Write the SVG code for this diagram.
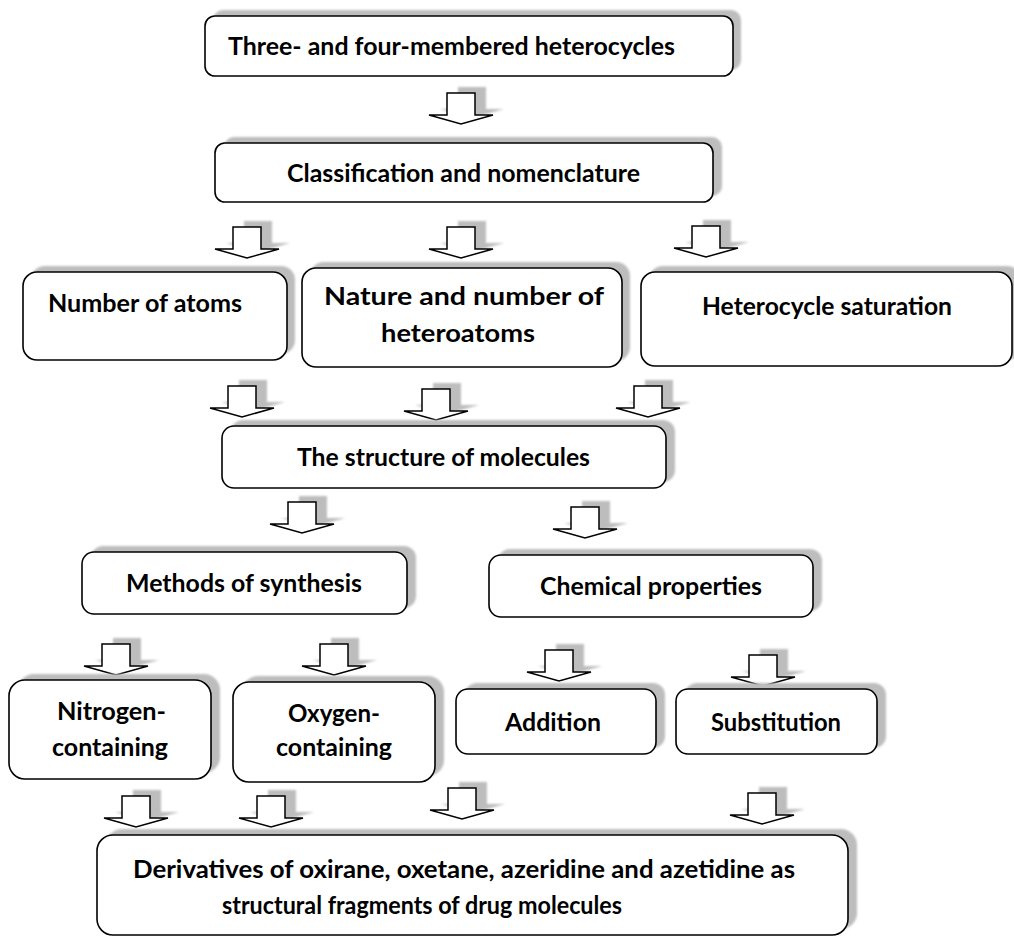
<svg xmlns="http://www.w3.org/2000/svg" xmlns:xlink="http://www.w3.org/1999/xlink" width="1014" height="938" viewBox="0 0 1014 938">
<style>
.box{fill:#ffffff;stroke:#000000;stroke-width:1.6}
.sh{fill:#bdbdbd;filter:url(#blur)}
.t{font-family:Lato,"Open Sans","Liberation Sans",sans-serif;font-weight:700;font-size:24px;fill:#000000}
.arr{fill:#ffffff;stroke:#000000;stroke-width:1.5;stroke-linejoin:miter}
.arrs{fill:#bdbdbd;stroke:none;filter:url(#blur)}
</style>
<defs>
<filter id="blur" x="-10%" y="-20%" width="120%" height="140%"><feGaussianBlur stdDeviation="1.2"/></filter>
<path id="ar" d="M-14,0 H14 V22 H32 L0,31 L-32,22 H-14 Z"/>
</defs>
<rect width="1014" height="938" fill="#ffffff"/>

<g id="connectors">
<use xlink:href="#ar" href="#ar" class="arrs" x="472" y="87"/><use xlink:href="#ar" href="#ar" class="arr" x="461" y="93"/>
<use xlink:href="#ar" href="#ar" class="arrs" x="258" y="221"/><use xlink:href="#ar" href="#ar" class="arr" x="247" y="227"/>
<use xlink:href="#ar" href="#ar" class="arrs" x="472" y="221"/><use xlink:href="#ar" href="#ar" class="arr" x="461" y="227"/>
<use xlink:href="#ar" href="#ar" class="arrs" x="717" y="220"/><use xlink:href="#ar" href="#ar" class="arr" x="706" y="226"/>
<use xlink:href="#ar" href="#ar" class="arrs" x="253" y="380"/><use xlink:href="#ar" href="#ar" class="arr" x="242" y="386"/>
<use xlink:href="#ar" href="#ar" class="arrs" x="447" y="383"/><use xlink:href="#ar" href="#ar" class="arr" x="436" y="389"/>
<use xlink:href="#ar" href="#ar" class="arrs" x="659" y="380"/><use xlink:href="#ar" href="#ar" class="arr" x="648" y="386"/>
<use xlink:href="#ar" href="#ar" class="arrs" x="313" y="496"/><use xlink:href="#ar" href="#ar" class="arr" x="302" y="502"/>
<use xlink:href="#ar" href="#ar" class="arrs" x="596" y="501"/><use xlink:href="#ar" href="#ar" class="arr" x="585" y="507"/>
<use xlink:href="#ar" href="#ar" class="arrs" x="127" y="638"/><use xlink:href="#ar" href="#ar" class="arr" x="116" y="644"/>
<use xlink:href="#ar" href="#ar" class="arrs" x="345" y="638"/><use xlink:href="#ar" href="#ar" class="arr" x="334" y="644"/>
<use xlink:href="#ar" href="#ar" class="arrs" x="570" y="644"/><use xlink:href="#ar" href="#ar" class="arr" x="559" y="650"/>
<use xlink:href="#ar" href="#ar" class="arrs" x="774" y="649"/><use xlink:href="#ar" href="#ar" class="arr" x="763" y="655"/>
<use xlink:href="#ar" href="#ar" class="arrs" x="147" y="790"/><use xlink:href="#ar" href="#ar" class="arr" x="136" y="796"/>
<use xlink:href="#ar" href="#ar" class="arrs" x="282" y="790"/><use xlink:href="#ar" href="#ar" class="arr" x="271" y="796"/>
<use xlink:href="#ar" href="#ar" class="arrs" x="473" y="782"/><use xlink:href="#ar" href="#ar" class="arr" x="462" y="788"/>
<use xlink:href="#ar" href="#ar" class="arrs" x="773" y="787"/><use xlink:href="#ar" href="#ar" class="arr" x="762" y="793"/>
</g>

<g id="n-top">
<rect class="sh" x="213" y="10" width="528" height="60" rx="10"/>
<rect class="box" x="205" y="16" width="528" height="60" rx="10"/>
<text class="t" x="228" y="55" textLength="447" lengthAdjust="spacingAndGlyphs">Three- and four-membered heterocycles</text>
</g>

<g id="n-class">
<rect class="sh" x="224" y="137" width="498" height="59" rx="10"/>
<rect class="box" x="215" y="143" width="498" height="59" rx="10"/>
<text class="t" x="287" y="182" textLength="353" lengthAdjust="spacingAndGlyphs">Classification and nomenclature</text>
</g>

<g id="n-number">
<rect class="sh" x="31" y="266" width="264" height="88" rx="14"/>
<rect class="box" x="23" y="272" width="264" height="88" rx="14"/>
<text class="t" x="48" y="312" textLength="194" lengthAdjust="spacingAndGlyphs">Number of atoms</text>
</g>

<g id="n-nature">
<rect class="sh" x="310" y="262" width="320" height="99" rx="14"/>
<rect class="box" x="302" y="268" width="320" height="99" rx="14"/>
<text class="t" x="324" y="305" textLength="280" lengthAdjust="spacingAndGlyphs">Nature and number of</text>
<text class="t" x="381" y="342" textLength="154" lengthAdjust="spacingAndGlyphs">heteroatoms</text>
</g>

<g id="n-saturation">
<rect class="sh" x="649" y="266" width="372" height="94" rx="14"/>
<rect class="box" x="641" y="272" width="371" height="94" rx="14"/>
<text class="t" x="702" y="315" textLength="250" lengthAdjust="spacingAndGlyphs">Heterocycle saturation</text>
</g>

<g id="n-structure">
<rect class="sh" x="231" y="420" width="444" height="62" rx="12"/>
<rect class="box" x="222" y="426" width="444" height="62" rx="12"/>
<text class="t" x="297" y="466" textLength="293" lengthAdjust="spacingAndGlyphs">The structure of molecules</text>
</g>

<g id="n-methods">
<rect class="sh" x="91" y="546" width="325" height="62" rx="12"/>
<rect class="box" x="82" y="552" width="325" height="62" rx="12"/>
<text class="t" x="126" y="592" textLength="236" lengthAdjust="spacingAndGlyphs">Methods of synthesis</text>
</g>

<g id="n-chemical">
<rect class="sh" x="498" y="549" width="324" height="62" rx="12"/>
<rect class="box" x="489" y="555" width="324" height="62" rx="12"/>
<text class="t" x="540" y="595" textLength="222" lengthAdjust="spacingAndGlyphs">Chemical properties</text>
</g>

<g id="n-nitrogen">
<rect class="sh" x="18" y="674" width="202" height="99" rx="16"/>
<rect class="box" x="9" y="680" width="202" height="99" rx="16"/>
<text class="t" x="57" y="720" textLength="109" lengthAdjust="spacingAndGlyphs">Nitrogen-</text>
<text class="t" x="52" y="756" textLength="116" lengthAdjust="spacingAndGlyphs">containing</text>
</g>

<g id="n-oxygen">
<rect class="sh" x="242" y="676" width="202" height="100" rx="16"/>
<rect class="box" x="233" y="682" width="202" height="100" rx="16"/>
<text class="t" x="288" y="722" textLength="92" lengthAdjust="spacingAndGlyphs">Oxygen-</text>
<text class="t" x="276" y="756" textLength="116" lengthAdjust="spacingAndGlyphs">containing</text>
</g>

<g id="n-addition">
<rect class="sh" x="465" y="683" width="200" height="65" rx="12"/>
<rect class="box" x="456" y="689" width="200" height="65" rx="12"/>
<text class="t" x="505" y="731" textLength="96" lengthAdjust="spacingAndGlyphs">Addition</text>
</g>

<g id="n-substitution">
<rect class="sh" x="685" y="683" width="201" height="65" rx="12"/>
<rect class="box" x="676" y="689" width="201" height="65" rx="12"/>
<text class="t" x="711" y="731" textLength="130" lengthAdjust="spacingAndGlyphs">Substitution</text>
</g>

<g id="n-derivatives">
<rect class="sh" x="106" y="829" width="751" height="100" rx="16"/>
<rect class="box" x="97" y="835" width="751" height="100" rx="16"/>
<text class="t" x="133" y="878" textLength="662" lengthAdjust="spacingAndGlyphs">Derivatives of oxirane, oxetane, azeridine and azetidine as</text>
<text class="t" x="222" y="914" textLength="400" lengthAdjust="spacingAndGlyphs">structural fragments of drug molecules</text>
</g>
</svg>
